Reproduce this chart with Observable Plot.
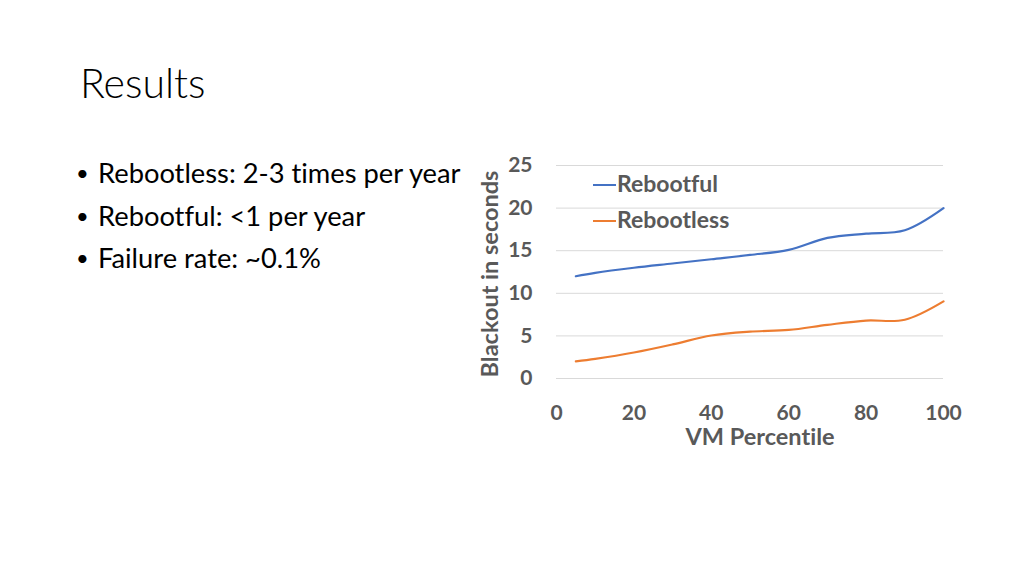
<!DOCTYPE html>
<html>
<head>
<meta charset="utf-8">
<script src="https://cdn.jsdelivr.net/npm/d3@7"></script>
<script src="https://cdn.jsdelivr.net/npm/@observablehq/plot@0.6"></script>
<style>
  html, body { margin: 0; padding: 0; background: #fff; }
  body { width: 1024px; height: 576px; position: relative; overflow: hidden; font-family: Lato, "Open Sans", sans-serif; font-variant-ligatures: none; font-feature-settings: "liga" 0, "dlig" 0; }
  svg, svg text { font-variant-ligatures: none; font-feature-settings: "liga" 0, "dlig" 0; }
  #title { position: absolute; left: 80px; top: 62px; font-size: 41px; font-weight: 300; color: #000; margin: 0; line-height: 1; }
  #bullets { position: absolute; left: 76px; top: 155px; margin: 0; padding: 0; list-style: none; font-size: 27.3px; color: #000; }
  #bullets li { height: 42.5px; line-height: 36px; white-space: nowrap; }
  #bullets li::before { content: "•"; display: inline-block; width: 22px; font-size: 22px; position: relative; top: -2px; }
  #chart { position: absolute; left: 470px; top: 150px; }
  #legend { position: absolute; left: 593px; top: 169px; font-family: Lato, sans-serif; font-weight: bold; font-size: 23px; color: #595959; }
  #legend div { height: 35.5px; line-height: 28px; white-space: nowrap; }
  #legend span.sw { display: inline-block; width: 23px; height: 2px; vertical-align: middle; margin-right: 1px; position: relative; top: -1px; }
</style>
</head>
<body>
<h1 id="title">Results</h1>
<ul id="bullets"></ul>
<div id="chart"></div>
<div id="legend"></div>
<script>
const bulletTexts = ["Rebootless: 2-3 times per year", "Rebootful: <1 per year", "Failure rate: ~0.1%"];
const seriesNames = ["Rebootful", "Rebootless"];
const seriesColors = ["#4472C4", "#ED7D31"];
const percentiles = [5, 10, 20, 30, 40, 50, 60, 70, 80, 90, 100];
const rebootful = [12, 12.4, 13, 13.5, 14, 14.5, 15.1, 16.5, 17, 17.4, 20];
const rebootless = [2, 2.3, 3.05, 4, 5.05, 5.5, 5.7, 6.3, 6.8, 6.9, 9.05];
const xTicks = [0, 20, 40, 60, 80, 100];
const yTicks = [0, 5, 10, 15, 20, 25];
const xLabel = "VM Percentile";
const yLabel = "Blackout in seconds";

const ul = document.getElementById("bullets");
bulletTexts.forEach(t => { const li = document.createElement("li"); li.textContent = t; ul.appendChild(li); });

const leg = document.getElementById("legend");
seriesNames.forEach((n, i) => {
  const d = document.createElement("div");
  const sw = document.createElement("span"); sw.className = "sw"; sw.style.background = seriesColors[i];
  d.appendChild(sw); d.appendChild(document.createTextNode(n)); leg.appendChild(d);
});

const data = [];
percentiles.forEach((p, i) => {
  data.push({series: seriesNames[0], x: p, y: rebootful[i]});
  data.push({series: seriesNames[1], x: p, y: rebootless[i]});
});

const chart = Plot.plot({
  width: 500,
  height: 300,
  marginLeft: 86,
  marginRight: 27,
  marginTop: 15,
  marginBottom: 72,
  style: {fontFamily: "Lato, sans-serif", fontSize: "21px", fontWeight: "bold", color: "#595959", background: "transparent", overflow: "visible"},
  x: {domain: [0, 100]},
  y: {domain: [0, 25]},
  color: {domain: seriesNames, range: seriesColors},
  marks: [
    Plot.ruleY(yTicks, {stroke: "#d9d9d9", strokeWidth: 1}),
    Plot.axisY({ticks: yTicks, tickSize: 0, tickPadding: 24, label: null}),
    Plot.axisX({ticks: xTicks, tickSize: 0, tickPadding: 27, label: null}),
    Plot.line(data, {x: "x", y: "y", stroke: "series", z: "series", curve: "catmull-rom", strokeWidth: 2.2}),
    Plot.text([yLabel], {frameAnchor: "left", textAnchor: "middle", lineAnchor: "middle", rotate: -90, dx: -66, dy: 2, fill: "#595959", fontSize: 23.5}),
    Plot.text([xLabel], {frameAnchor: "bottom", textAnchor: "middle", lineAnchor: "middle", dx: 10, dy: 59, fill: "#595959", fontSize: 23.5})
  ]
});
document.getElementById("chart").appendChild(chart);
</script>
</body>
</html>
